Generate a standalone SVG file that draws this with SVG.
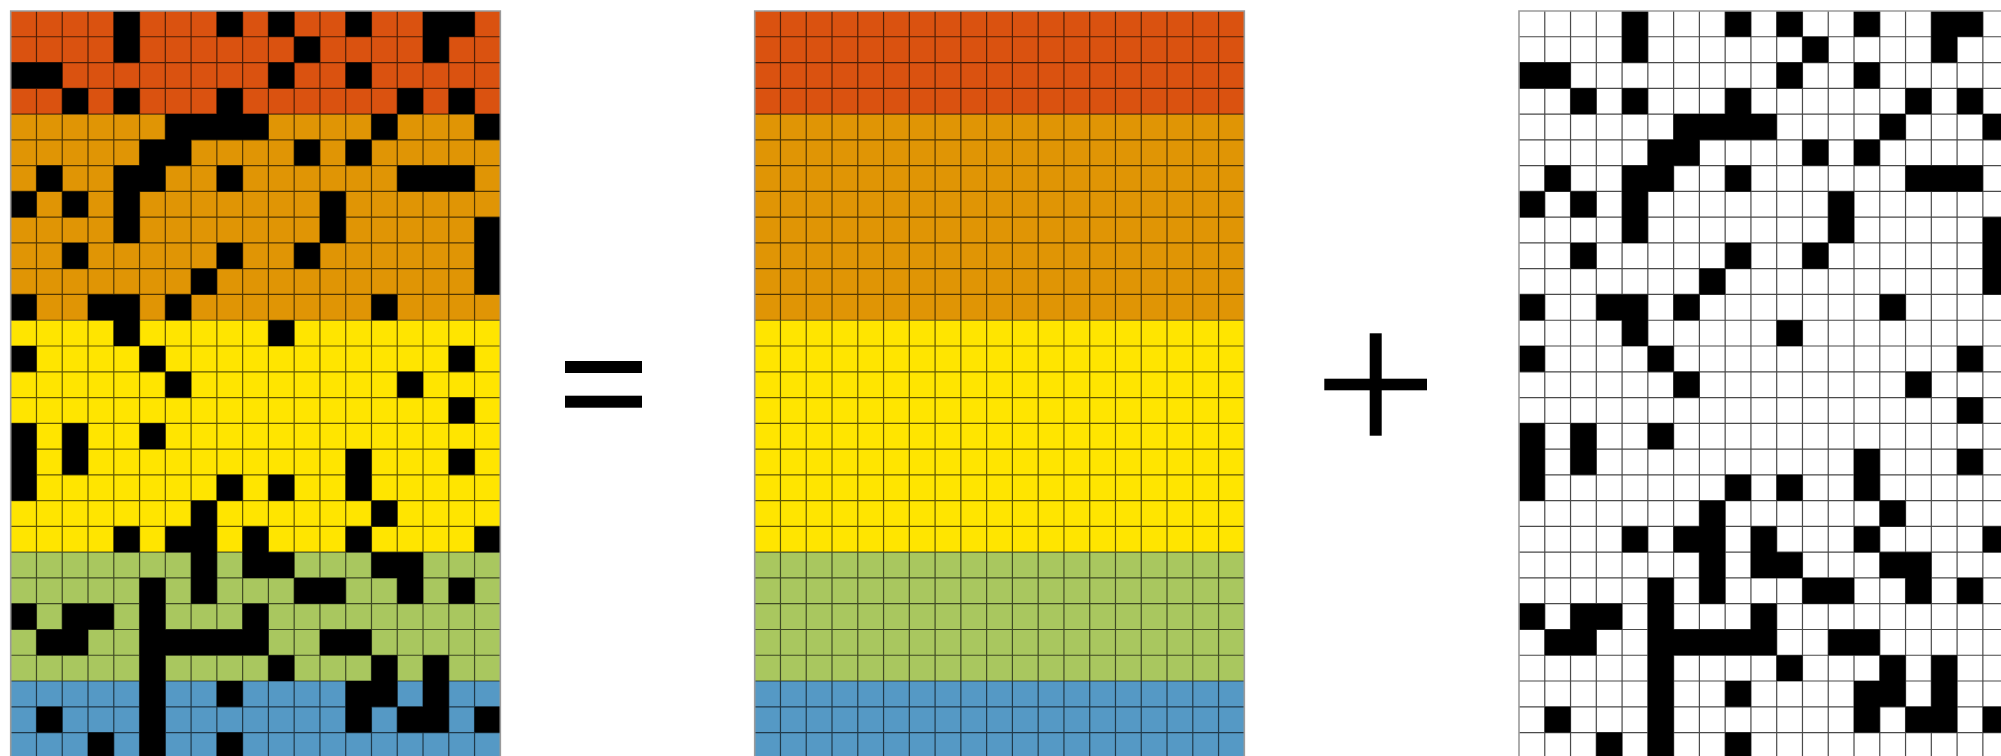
<svg xmlns="http://www.w3.org/2000/svg" xmlns:xlink="http://www.w3.org/1999/xlink" width="2001" height="756" viewBox="0 0 2001 756">
<style>
.red{fill:#DA5210}
.org{fill:#E09505}
.yel{fill:#FFE500}
.grn{fill:#A9C75F}
.blu{fill:#5599C5}
.blk{fill:#000}
.wht{fill:#FFF}
.lines{fill:none;stroke:#000;stroke-opacity:0.62;stroke-width:1.2}
.lines-w{fill:none;stroke:#4a4a4a;stroke-width:1.2}
.frame{fill:none;stroke:#9a9a9a;stroke-width:1.6}
.sign{fill:#000}
</style>
<defs>
<g id="bands">
<rect class="red" x="0" y="0" width="19" height="4"/>
<rect class="org" x="0" y="4" width="19" height="8"/>
<rect class="yel" x="0" y="12" width="19" height="9"/>
<rect class="grn" x="0" y="21" width="19" height="5"/>
<rect class="blu" x="0" y="26" width="19" height="3"/>
</g>
<path id="black" class="blk" d="
M4 0h1v1h-1z M8 0h1v1h-1z M10 0h1v1h-1z M13 0h1v1h-1z M16 0h2v1h-2z
M4 1h1v1h-1z M11 1h1v1h-1z M16 1h1v1h-1z
M0 2h2v1h-2z M10 2h1v1h-1z M13 2h1v1h-1z
M2 3h1v1h-1z M4 3h1v1h-1z M8 3h1v1h-1z M15 3h1v1h-1z M17 3h1v1h-1z
M6 4h4v1h-4z M14 4h1v1h-1z M18 4h1v1h-1z
M5 5h2v1h-2z M11 5h1v1h-1z M13 5h1v1h-1z
M1 6h1v1h-1z M4 6h2v1h-2z M8 6h1v1h-1z M15 6h3v1h-3z
M0 7h1v1h-1z M2 7h1v1h-1z M4 7h1v1h-1z M12 7h1v1h-1z
M4 8h1v1h-1z M12 8h1v1h-1z M18 8h1v1h-1z
M2 9h1v1h-1z M8 9h1v1h-1z M11 9h1v1h-1z M18 9h1v1h-1z
M7 10h1v1h-1z M18 10h1v1h-1z
M0 11h1v1h-1z M3 11h2v1h-2z M6 11h1v1h-1z M14 11h1v1h-1z
M4 12h1v1h-1z M10 12h1v1h-1z
M0 13h1v1h-1z M5 13h1v1h-1z M17 13h1v1h-1z
M6 14h1v1h-1z M15 14h1v1h-1z
M17 15h1v1h-1z
M0 16h1v1h-1z M2 16h1v1h-1z M5 16h1v1h-1z
M0 17h1v1h-1z M2 17h1v1h-1z M13 17h1v1h-1z M17 17h1v1h-1z
M0 18h1v1h-1z M8 18h1v1h-1z M10 18h1v1h-1z M13 18h1v1h-1z
M7 19h1v1h-1z M14 19h1v1h-1z
M4 20h1v1h-1z M6 20h2v1h-2z M9 20h1v1h-1z M13 20h1v1h-1z M18 20h1v1h-1z
M7 21h1v1h-1z M9 21h2v1h-2z M14 21h2v1h-2z
M5 22h1v1h-1z M7 22h1v1h-1z M11 22h2v1h-2z M15 22h1v1h-1z M17 22h1v1h-1z
M0 23h1v1h-1z M2 23h2v1h-2z M5 23h1v1h-1z M9 23h1v1h-1z
M1 24h2v1h-2z M5 24h5v1h-5z M12 24h2v1h-2z
M5 25h1v1h-1z M10 25h1v1h-1z M14 25h1v1h-1z M16 25h1v1h-1z
M5 26h1v1h-1z M8 26h1v1h-1z M13 26h2v1h-2z M16 26h1v1h-1z
M1 27h1v1h-1z M5 27h1v1h-1z M13 27h1v1h-1z M15 27h2v1h-2z M18 27h1v1h-1z
M3 28h1v1h-1z M5 28h1v1h-1z M8 28h1v1h-1z"/>
<path id="gridlines" vector-effect="non-scaling-stroke" d="
M1 0V29 M2 0V29 M3 0V29 M4 0V29 M5 0V29 M6 0V29 M7 0V29 M8 0V29 M9 0V29 M10 0V29
M11 0V29 M12 0V29 M13 0V29 M14 0V29 M15 0V29 M16 0V29 M17 0V29 M18 0V29
M0 1H19 M0 2H19 M0 3H19 M0 4H19 M0 5H19 M0 6H19 M0 7H19 M0 8H19 M0 9H19 M0 10H19
M0 11H19 M0 12H19 M0 13H19 M0 14H19 M0 15H19 M0 16H19 M0 17H19 M0 18H19 M0 19H19 M0 20H19
M0 21H19 M0 22H19 M0 23H19 M0 24H19 M0 25H19 M0 26H19 M0 27H19 M0 28H19"/>
<rect id="outline" x="0" y="0" width="19" height="29" vector-effect="non-scaling-stroke"/>
</defs>
<rect x="0" y="0" width="2001" height="756" fill="#FFF"/>

<g id="grid-combined" transform="translate(10.7 11) scale(25.77)">
<use xlink:href="#bands"/>
<use xlink:href="#gridlines" class="lines"/>
<use xlink:href="#black"/>
<use xlink:href="#outline" class="frame"/>
</g>

<g id="equals-sign">
<rect class="sign" x="565" y="361" width="77" height="12"/>
<rect class="sign" x="565" y="395.7" width="77" height="12"/>
</g>

<g id="grid-colors" transform="translate(754.7 11) scale(25.77)">
<use xlink:href="#bands"/>
<use xlink:href="#gridlines" class="lines"/>
<use xlink:href="#outline" class="frame"/>
</g>

<g id="plus-sign">
<rect class="sign" x="1324.3" y="378.7" width="102.7" height="11.6"/>
<rect class="sign" x="1369.7" y="333.3" width="12" height="102.4"/>
</g>

<g id="grid-black" transform="translate(1519 11) scale(25.77)">
<rect class="wht" x="0" y="0" width="19" height="29"/>
<use xlink:href="#gridlines" class="lines-w"/>
<use xlink:href="#black"/>
<use xlink:href="#outline" class="frame"/>
</g>

<g id="connectors"></g>
</svg>
